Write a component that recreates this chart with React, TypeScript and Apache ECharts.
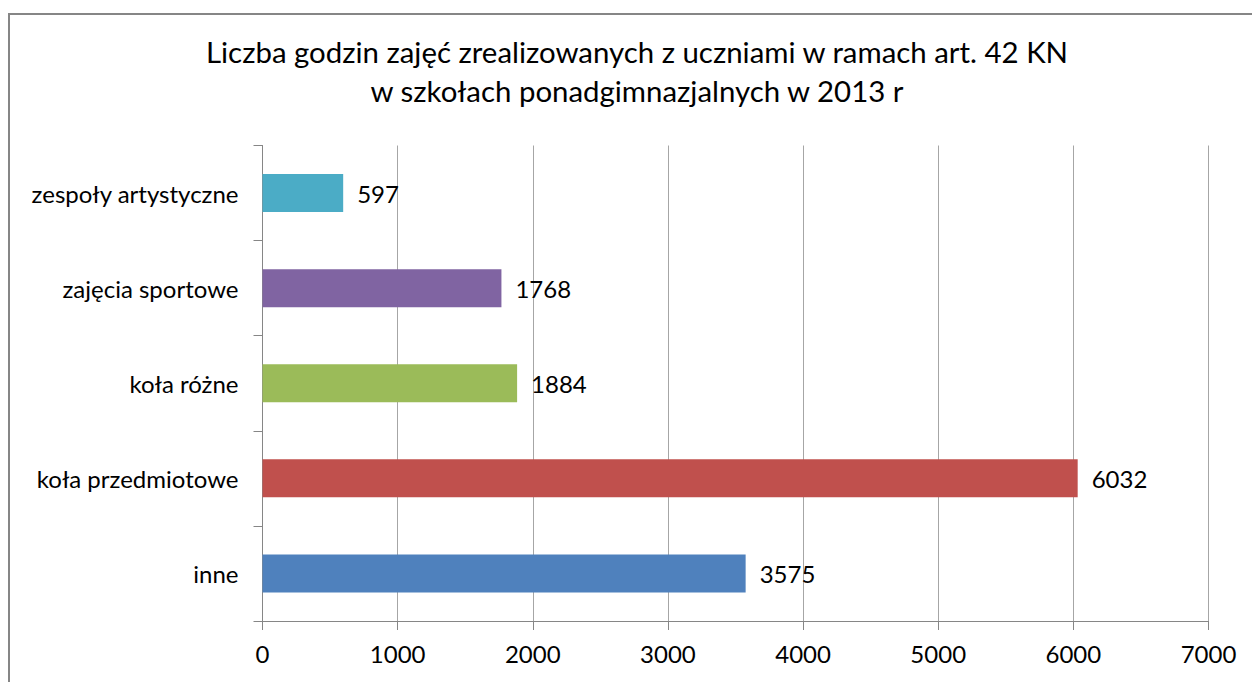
import React, { useEffect, useRef } from "react";
import * as echarts from "echarts";

const categories = ["inne", "koła przedmiotowe", "koła różne", "zajęcia sportowe", "zespoły artystyczne"];
const values = [3575, 6032, 1884, 1768, 597];
const barColors = ["#4F81BD", "#C0504D", "#9BBB59", "#8064A2", "#4BACC6"];
const xTicks = [0, 1000, 2000, 3000, 4000, 5000, 6000, 7000];
const titleLines = [
  "Liczba godzin zajęć zrealizowanych z uczniami w ramach art. 42 KN",
  "w szkołach ponadgimnazjalnych w 2013 r",
];

const FONT = "Lato, 'Open Sans', sans-serif";

export default function App() {
  const ref = useRef<HTMLDivElement>(null);
  useEffect(() => {
    if (!ref.current) return;
    const chart = echarts.init(ref.current, null, { renderer: "svg" });
    chart.setOption({
      animation: false,
      backgroundColor: "#fff",
      title: {
        text: titleLines.join("\n"),
        left: 632,
        textAlign: "center",
        top: 27,
        textStyle: {
          fontFamily: FONT,
          fontSize: 29.4,
          fontWeight: "normal",
          color: "#000",
          lineHeight: 39,
        },
      },
      graphic: [
        {
          type: "rect",
          shape: { x: 9, y: 14, width: 1260, height: 700 },
          style: { fill: "none", stroke: "#868686", lineWidth: 2 },
          silent: true,
        },
      ],
      grid: { left: 262.5, right: 43.5, top: 145.5, bottom: 61, containLabel: false },
      xAxis: {
        type: "value",
        min: xTicks[0],
        max: xTicks[xTicks.length - 1],
        interval: 1000,
        axisLine: { show: true, lineStyle: { color: "#868686", width: 1 } },
        axisTick: { show: true, length: 9, lineStyle: { color: "#868686" } },
        splitLine: { show: true, lineStyle: { color: "#A6A6A6", width: 1 } },
        axisLabel: {
          fontFamily: FONT,
          fontSize: 24,
          color: "#000",
          margin: 20,
          formatter: (v: number) => String(v),
        },
      },
      yAxis: {
        type: "category",
        data: categories,
        axisLine: { show: true, lineStyle: { color: "#868686", width: 1 } },
        axisTick: { show: true, length: 9, lineStyle: { color: "#868686" } },
        axisLabel: { fontFamily: FONT, fontSize: 24, color: "#000", margin: 24 },
      },
      series: [
        {
          type: "bar",
          data: values.map((v, i) => ({ value: v, itemStyle: { color: barColors[i] } })),
          barWidth: 38,
          label: {
            show: true,
            position: "right",
            distance: 14,
            fontFamily: FONT,
            fontSize: 24,
            color: "#000",
          },
        },
      ],
    });
    return () => chart.dispose();
  }, []);
  return (
    <div
      ref={ref}
      style={{ position: "fixed", left: 0, top: 0, width: 1252, height: 682 }}
    />
  );
}
